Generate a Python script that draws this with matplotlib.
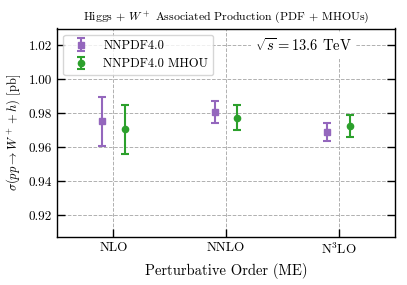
import matplotlib
matplotlib.use("Agg")
import matplotlib.pyplot as plt
import numpy as np

plt.rcParams.update({
    "font.family": "serif",
    "font.serif": ["cmr10"],
    "mathtext.fontset": "cm",
    "axes.formatter.use_mathtext": True,
    "axes.unicode_minus": False,
})

orders = ["NLO", "NNLO", r"N$^3$LO"]
nnpdf_central = [0.9753, 0.9808, 0.9690]
nnpdf_err = [0.0144, 0.0067, 0.0055]
mhou_central = [0.9706, 0.9775, 0.9724]
mhou_err = [0.0144, 0.0072, 0.0064]

fig, ax = plt.subplots(figsize=(4.07, 2.85), dpi=100)
fig.subplots_adjust(left=0.14, right=0.9705, top=0.90, bottom=0.168)

x = np.arange(len(orders))
off = 0.1
ax.errorbar(x - off, nnpdf_central, yerr=nnpdf_err, fmt="s", color="#9467bd",
            markersize=4.5, capsize=3, elinewidth=1.5, capthick=1.5, label="NNPDF4.0")
ax.errorbar(x + off, mhou_central, yerr=mhou_err, fmt="o", color="#2ca02c",
            markersize=4.5, capsize=3, elinewidth=1.5, capthick=1.5, label="NNPDF4.0 MHOU")

ax.set_xticks(x)
ax.set_xticklabels(orders)
ax.set_xlim(-0.5, 2.5)
ax.set_ylim(0.907, 1.030)
ax.set_yticks([0.92, 0.94, 0.96, 0.98, 1.00, 1.02])
ax.set_yticklabels(["0.92", "0.94", "0.96", "0.98", "1.00", "1.02"])
ax.tick_params(direction="in", length=6, width=1, right=True, labelsize=9.5)
ax.grid(True, linestyle="--", color="#b0b0b0", linewidth=0.7)
for s in ax.spines.values():
    s.set_linewidth(1.0)

ax.set_title(r"Higgs + $W^+$ Associated Production (PDF + MHOUs)", fontsize=8.5)
ax.set_xlabel("Perturbative Order (ME)", fontsize=10.5)
ax.set_ylabel(r"$\sigma(pp \to W^+ + h)$ [pb]", fontsize=9)
ax.legend(loc="upper left", fontsize=9, frameon=True)
ax.text(0.73, 0.917, r"$\sqrt{s} = 13.6$ TeV", transform=ax.transAxes,
        ha="center", va="center", fontsize=10.5,
        bbox=dict(facecolor="white", edgecolor="none", pad=3))

fig.savefig("out.png", dpi=100)
